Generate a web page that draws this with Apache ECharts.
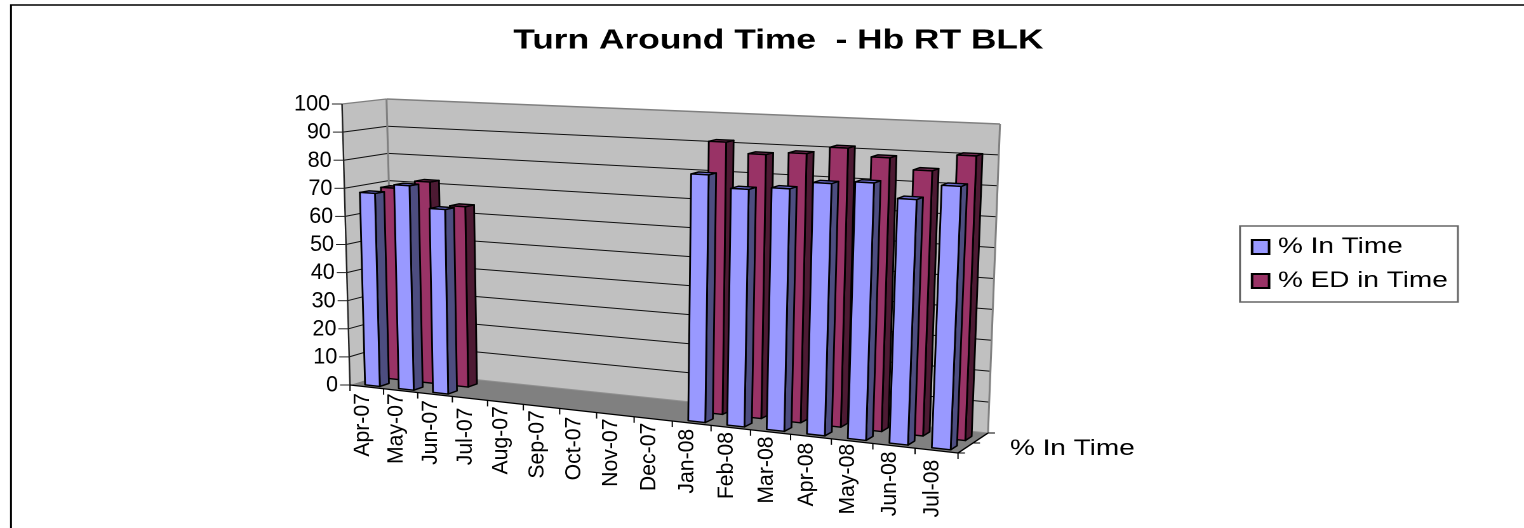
<!DOCTYPE html>
<html><head><meta charset="utf-8">
<style>html,body{margin:0;padding:0;background:#fff;overflow:hidden}
#c{width:1200px;height:528px;transform:scaleX(1.27);transform-origin:0 0}</style>
<script src="https://cdn.jsdelivr.net/npm/echarts@6/dist/echarts.min.js"></script>
</head><body><div id="c"></div>
<script>
const categories = ['Apr-07','May-07','Jun-07','Jul-07','Aug-07','Sep-07','Oct-07','Nov-07','Dec-07','Jan-08','Feb-08','Mar-08','Apr-08','May-08','Jun-08','Jul-08'];
const inTime = [68.5,72,64.5,null,null,null,null,null,null,82,78,79,81.5,82.5,78,83];
const edInTime = [69,72,64,null,null,null,null,null,null,91.5,88,89,91.5,89,85.5,91];
const yTicks = [0,10,20,30,40,50,60,70,80,90,100];
const titleText = 'Turn Around Time  - Hb RT BLK';
const depthLabel = '% In Time';
const SX = 1.27, FONT = '"Liberation Sans", Arial, sans-serif';
// view box of the 3-D plot, screen pixels
const FL0=[350,385],FL1=[342,104],BL0=[394,371],BL1=[386.5,99],BR0=[988,433],BR1=[1000,124],FR0=[958,453],FR1=[971,134];
const GRID={left:100,top:100,width:800,height:300};
const lerp=(a,b,t)=>[a[0]+(b[0]-a[0])*t,a[1]+(b[1]-a[1])*t];
const warp=u=>u/(u+1.14*(1-u));
function P(u,v,z){const s=warp(u);
  const b=lerp(lerp(FL0,FR0,s),lerp(BL0,BR0,s),z), t=lerp(lerp(FL1,FR1,s),lerp(BL1,BR1,s),z);
  return lerp(b,t,v);}
const S=p=>[p[0]/SX,p[1]];
const uvOf=(api,c,v)=>{const p=api.coord([c,v]);return [(p[0]-GRID.left)/GRID.width,(GRID.top+GRID.height-p[1])/GRID.height];};
const poly=(pts,fill,stroke,lw)=>({type:'polygon',shape:{points:pts.map(S)},style:{fill:fill||'none',stroke:stroke||'none',lineWidth:lw||0,lineJoin:'round'}});
const line=(a,b,stroke,lw)=>({type:'line',shape:{x1:a[0]/SX,y1:a[1],x2:b[0]/SX,y2:b[1]},style:{stroke,lineWidth:lw||1}});

function barRender(opts){return function(params,api){
  const c=api.value(0),val=api.value(1);
  const [uc,v]=uvOf(api,c,val);
  const bw=api.size([1,0])[0]/GRID.width;
  const u0=uc+(opts.f0-.5)*bw,u1=uc+(opts.f1-.5)*bw,z0=opts.z0,z1=opts.z1;
  const a=P(u0,0,z0),b=P(u1,0,z0),d=P(u1,0,z1),e=P(u0,v,z0),f=P(u1,v,z0),g=P(u1,v,z1),h=P(u0,v,z1);
  return {type:'group',children:[
    poly([b,d,g,f],opts.side,'#000',1.4),
    poly([e,f,g,h],opts.top,'#000',1.4),
    poly([a,b,f,e],opts.front,'#000',1.4)]};
};}
function wallRender(params,api){
  const ch=[poly([BL0,BL1,BR1,BR0],'#c0c0c0'),poly([FL0,FL1,BL1,BL0],'#c0c0c0'),poly([FL0,BL0,BR0,FR0],'#808080')];
  yTicks.forEach(t=>{const v=uvOf(api,0,t)[1];
    if(t===0||t===100)return;
    ch.push(line(P(0,v,0),P(0,v,1),'#111',1),line(P(0,v,1),P(1,v,1),'#111',1));});
  ch.push(line(BL0,BL1,'#808080',1.5),line(BL1,BR1,'#808080',1.5),line(BR1,BR0,'#808080',1.5),line(FL1,BL1,'#808080',1.2),line(BL0,BR0,'#909090',1));
  return {type:'group',children:ch};
}
function axisRender(params,api){
  const ch=[line(FL0,FL1,'#222',1.2),line(FL0,FR0,'#000',1.2),line(FR0,BR0,'#000',1.2)];
  const txt=(t,p,extra,style)=>Object.assign({type:'text',x:p[0]/SX,y:p[1],style:Object.assign({text:t,fontFamily:FONT,fill:'#000'},style)},extra);
  yTicks.forEach(t=>{const v=uvOf(api,0,t)[1],p=P(0,v,0);
    ch.push(line(p,[p[0]-10,p[1]],'#222',1));
    ch.push(txt(String(t),[p[0]-12,p[1]+.5],{scaleX:.98/SX},{fontSize:22,align:'right',verticalAlign:'middle'}));});
  const bw=api.size([1,0])[0]/GRID.width;
  categories.forEach((n,i)=>{
    const uc=uvOf(api,i,0)[0],e=P(uc-bw/2,0,0),m=P(uc,0,0);
    ch.push(line(e,[e[0],e[1]+6],'#000',1));
    ch.push(txt(n,[m[0]-4,m[1]+38],{rotation:Math.PI/2,scaleX:1.06,scaleY:1.1/SX},{fontSize:20,align:'center',verticalAlign:'middle'}));});
  const e=P(1,0,0);ch.push(line(e,[e[0],e[1]+6],'#000',1));
  [0,.5,1].forEach(z=>{const p=P(1,0,z);ch.push(line(p,[p[0]+7,p[1]],'#000',1));});
  ch.push(txt(depthLabel,[1010,449],{},{fontSize:22,align:'left',verticalAlign:'middle'}));
  return {type:'group',children:ch};
}
const toData=a=>a.map((v,i)=>[i,v]).filter(d=>d[1]!=null);
const chart=echarts.init(document.getElementById('c'),null,{renderer:'canvas',devicePixelRatio:2});
chart.setOption({
  animation:false,backgroundColor:'#fff',
  title:{text:titleText,left:772/SX,textAlign:'center',top:22,textStyle:{fontFamily:FONT,fontSize:27.8,fontWeight:'bold',color:'#000'}},
  legend:{data:['% In Time','% ED in Time'],orient:'vertical',left:1240/SX,top:226,padding:[10,8,10,8.5],itemGap:12,itemWidth:13.4,itemHeight:14,icon:'rect',
    backgroundColor:'#fff',borderColor:'#666',borderWidth:1.5,borderRadius:0,selectedMode:false,
    textStyle:{fontFamily:FONT,fontSize:22,color:'#000',padding:[0,0,0,2]}},
  grid:Object.assign({show:false},GRID),
  xAxis:{type:'category',data:categories,show:false},
  yAxis:{type:'value',min:0,max:100,interval:10,show:false},
  graphic:[{type:'polyline',silent:true,z:0,shape:{points:[[11/SX,528],[11/SX,5],[1524/SX,5]]},style:{stroke:'#000',fill:'none',lineWidth:1.5}}],
  series:[
    {type:'custom',name:'walls',z:1,clip:false,silent:true,data:[[0,0]],encode:{x:0,y:1},renderItem:wallRender},
    {type:'custom',name:'% ED in Time',z:2,clip:false,data:toData(edInTime),encode:{x:0,y:1},itemStyle:{color:'#993366',borderColor:'#000',borderWidth:1},
      renderItem:barRender({f0:.33,f1:.77,z0:.57,z1:.78,front:'#993366',side:'#4d1a33',top:'#6f2a50'})},
    {type:'custom',name:'% In Time',z:3,clip:false,data:toData(inTime),encode:{x:0,y:1},itemStyle:{color:'#9999ff',borderColor:'#000',borderWidth:1},
      renderItem:barRender({f0:.32,f1:.76,z0:.10,z1:.31,front:'#9999ff',side:'#4d4d80',top:'#6a6ad0'})},
    {type:'custom',name:'axes',z:4,clip:false,silent:true,data:[[0,0]],encode:{x:0,y:1},renderItem:axisRender}
  ]
});
</script></body></html>
